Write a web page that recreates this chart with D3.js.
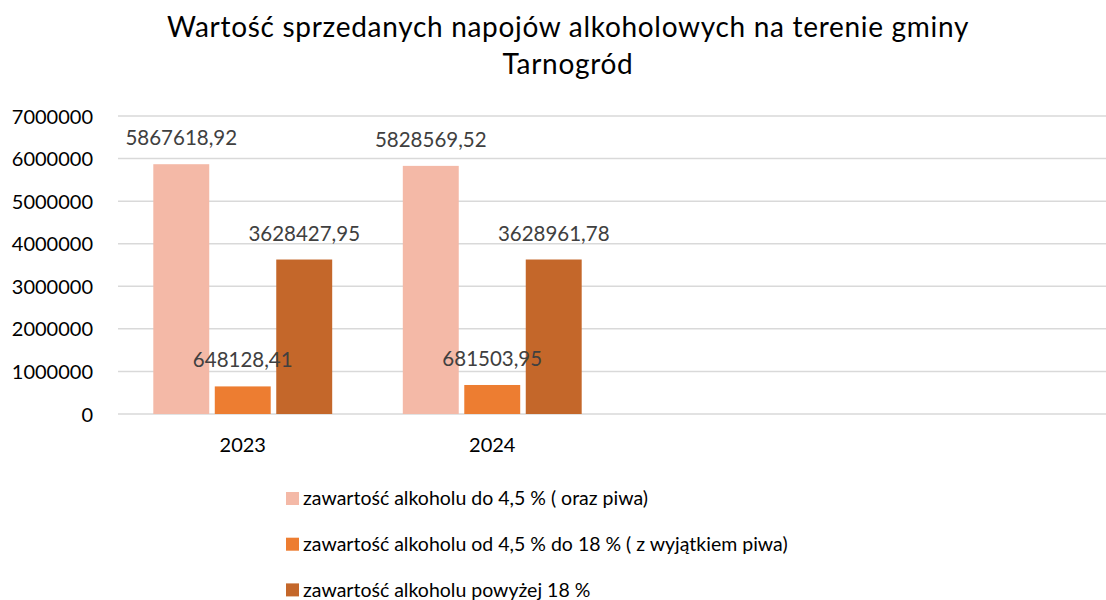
<!DOCTYPE html>
<html>
<head>
<meta charset="utf-8">
<script src="https://cdn.jsdelivr.net/npm/d3@7"></script>
<style>
  body { margin: 0; background: #fff; }
  text { font-family: Lato, "Open Sans", sans-serif; }
</style>
</head>
<body>
<svg width="1106" height="600"></svg>
<script>
// data
let categories = ['2023', '2024', 'c3', 'c4'];
let categoryLabels = ['2023', '2024', '', ''];
let seriesNames = [
    'zawartość alkoholu do 4,5 % ( oraz piwa)',
    'zawartość alkoholu od 4,5 % do 18 % ( z wyjątkiem piwa)',
    'zawartość alkoholu powyżej 18 %'
];
let seriesColors = ['#F4B9A7', '#ED7D31', '#C4672A'];
let lowAlcohol = [5867618.92, 5828569.52, null, null];
let midAlcohol = [648128.41, 681503.95, null, null];
let highAlcohol = [3628427.95, 3628961.78, null, null];
let yTicks = [0, 1000000, 2000000, 3000000, 4000000, 5000000, 6000000, 7000000];

let svg = d3.select('svg');
let width = +svg.attr('width');

let seriesValues = [lowAlcohol, midAlcohol, highAlcohol];
let data = categories.map((c, i) => ({
    cat: c,
    values: seriesNames.map((s, j) => ({series: s, value: seriesValues[j][i]}))
}));

let plotLeft = 118, plotBottom = 414, plotTop = 116;

//Scales
let x0 = d3.scaleBand()
    .domain(categories)
    .range([plotLeft, plotLeft + 998])
    .paddingInner(0.283)
    .paddingOuter(0.1415);

let x1 = d3.scaleBand()
    .domain(seriesNames)
    .range([0, x0.bandwidth()])
    .paddingInner(0.09);

let yScale = d3.scaleLinear()
    .domain([0, 7000000])
    .range([plotBottom, plotTop]);

let color = d3.scaleOrdinal().domain(seriesNames).range(seriesColors);

// gridlines
svg.append('g').selectAll('line').data(yTicks)
    .enter().append('line')
    .attr('x1', plotLeft).attr('x2', width)
    .attr('y1', d => yScale(d)).attr('y2', d => yScale(d))
    .attr('stroke', '#D9D9D9')
    .attr('stroke-width', 1.5);

// y axis labels
let yAxis = svg.append('g')
    .attr('transform', `translate(${plotLeft - 25},0)`)
    .call(d3.axisLeft(yScale).tickValues(yTicks).tickFormat(d3.format('d')).tickSize(0).tickPadding(0));
yAxis.select('.domain').remove();
yAxis.selectAll('text')
    .attr('font-size', 20)
    .attr('font-family', 'Lato')
    .attr('fill', '#000')
    .attr('dy', '0.35em');

// x axis labels
let xAxis = svg.append('g')
    .attr('transform', `translate(0,${plotBottom})`)
    .call(d3.axisBottom(x0).tickFormat((d, i) => categoryLabels[i]).tickSize(0).tickPadding(24));
xAxis.select('.domain').remove();
xAxis.selectAll('text')
    .attr('font-size', 20)
    .attr('font-family', 'Lato')
    .attr('fill', '#000');

// bars
let groups = svg.append('g').selectAll('g').data(data)
    .enter().append('g')
    .attr('transform', d => `translate(${x0(d.cat)},0)`);

groups.selectAll('rect')
    .data(d => d.values.filter(v => v.value != null))
    .enter().append('rect')
    .attr('x', d => x1(d.series))
    .attr('y', d => yScale(d.value))
    .attr('width', x1.bandwidth())
    .attr('height', d => plotBottom - yScale(d.value))
    .attr('fill', d => color(d.series));

// value labels
groups.selectAll('.label')
    .data(d => d.values.filter(v => v.value != null))
    .enter().append('text')
    .attr('class', 'label')
    .attr('x', d => x1(d.series) + x1.bandwidth() / 2)
    .attr('y', d => yScale(d.value) - 19)
    .attr('text-anchor', 'middle')
    .attr('font-size', 20.5)
    .attr('fill', '#404040')
    .text(d => d3.format('.2f')(d.value).replace('.', ','));

// title
let title = svg.append('text')
    .attr('x', 568)
    .attr('text-anchor', 'middle')
    .attr('font-size', 28)
    .attr('letter-spacing', 0.7)
    .attr('fill', '#000');
title.append('tspan').attr('x', 568).attr('y', 37).text('Wartość sprzedanych napojów alkoholowych na terenie gminy');
title.append('tspan').attr('x', 568).attr('y', 74).text('Tarnogród');

// legend
let legend = svg.append('g').selectAll('g').data(seriesNames)
    .enter().append('g')
    .attr('transform', (d, i) => `translate(286,${492 + i * 45.7})`);

legend.append('rect')
    .attr('width', 13).attr('height', 13)
    .attr('fill', d => color(d));

legend.append('text')
    .attr('x', 17)
    .attr('y', 6.5)
    .attr('dy', '0.35em')
    .attr('font-size', 19.5)
    .attr('fill', '#000')
    .text(d => d);
</script>
</body>
</html>
